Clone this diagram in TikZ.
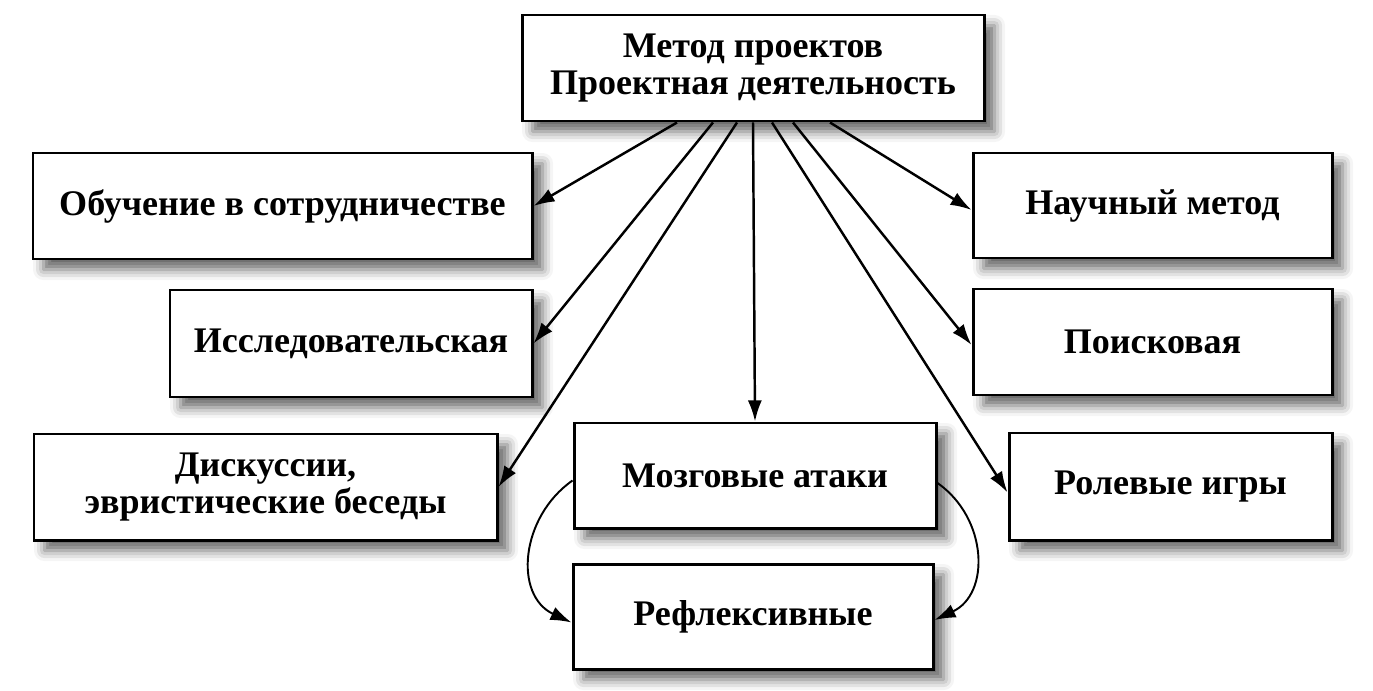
\documentclass[tikz,border=0pt]{standalone}
\usepackage{fontspec}
\setmainfont{Liberation Serif}
\usetikzlibrary{arrows.meta,shadows.blur}

\begin{document}
\begin{tikzpicture}[box/.style={draw,line width=1.7pt,fill=white,align=center,inner sep=0pt,
        font=\bfseries\fontsize{20.5}{21}\selectfont,
        blur shadow={shadow xshift=6pt,shadow yshift=-6pt,shadow blur radius=6pt,shadow opacity=60}},
        link/.style={line width=1.4pt,-{Latex[length=12pt,width=8pt]}},
        loop/.style={line width=1.1pt,-{Latex[length=12pt,width=8pt]},looseness=1.15}]
        \useasboundingbox (0,0) rectangle (27.46,-13.8); % page size of the reference
        \node[box,minimum width=9.24cm,minimum height=2.12cm] (metod) at (15.06,-1.36) {Метод проектов\\Проектная деятельность};
        % left column
        \node[box,minimum width=9.98cm,minimum height=2.12cm] (obuch) at (5.65,-4.12) {Обучение в сотрудничестве};
        \node[box,minimum width=7.24cm,minimum height=2.14cm] (issl) at (7.02,-6.87) {Исследовательская};
        \node[box,minimum width=9.26cm,minimum height=2.12cm] (disk) at (5.31,-9.74) {Дискуссии,\\эвристические беседы};
        % middle column
        \node[box,minimum width=7.24cm,minimum height=2.10cm] (mozg) at (15.10,-9.51) {Мозговые атаки};
        \node[box,minimum width=7.20cm,minimum height=2.10cm] (refl) at (15.06,-12.33) {Рефлексивные};
        % right column
        \node[box,minimum width=7.18cm,minimum height=2.10cm] (nauch) at (23.05,-4.11) {Научный метод};
        \node[box,minimum width=7.18cm,minimum height=2.12cm] (poisk) at (23.05,-6.84) {Поисковая};
        \node[box,minimum width=6.46cm,minimum height=2.14cm] (rol) at (23.41,-9.73) {Ролевые игры};
        % fan of arrows out of the top box
        \draw[link] ([xshift=-1.52cm]metod.south) -- (obuch.east);
        \draw[link] ([xshift=-0.80cm]metod.south) -- (issl.east);
        \draw[link] ([xshift=-0.32cm]metod.south) -- (disk.east);
        \draw[link] (metod.south) -- (mozg.north);
        \draw[link] ([xshift=0.38cm]metod.south) -- ([yshift=-0.12cm]rol.west);
        \draw[link] ([xshift=0.80cm]metod.south) -- ([yshift=-0.06cm]poisk.west);
        \draw[link] ([xshift=1.54cm]metod.south) -- ([yshift=-0.09cm]nauch.west);
        % two bends from Мозговые атаки down to Рефлексивные
        \draw[loop] ([yshift=-0.1cm]mozg.west) to[out=215,in=155] ([yshift=-0.12cm]refl.west);
        \draw[loop] ([yshift=-0.15cm]mozg.east) to[out=-35,in=25] ([yshift=-0.07cm]refl.east);
\end{tikzpicture}
\end{document}
